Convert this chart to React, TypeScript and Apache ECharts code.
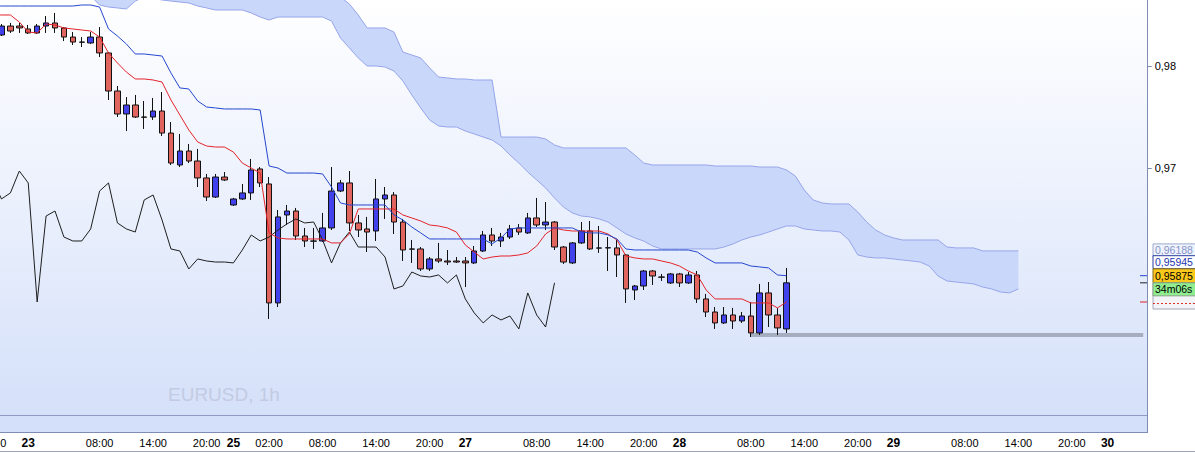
import React, { useEffect, useRef } from 'react';
import * as echarts from 'echarts';

// ---- time axis (hourly bars, broker sessions) ----
const sessionDays = [22, 23, 25, 26, 27, 28, 29, 30];
const sessionFirstHour = [20, 0, 22, 0, 0, 0, 0, 0];
const sessionLastHour = [23, 22, 23, 23, 23, 23, 23, 4];

const tickSlots = [0, 4, 6, 12, 18, 24, 27, 31, 37, 43, 49, 53, 55, 61, 67, 73, 77, 79, 85, 91, 97, 101, 103, 109, 115, 121, 125, 127];
const tickTexts = ['20:00', '23', '', '08:00', '14:00', '20:00', '25', '02:00', '08:00', '14:00', '20:00', '27', '', '08:00', '14:00', '20:00', '28', '', '08:00', '14:00', '20:00', '29', '', '08:00', '14:00', '20:00', '30', ''];
const yTickValues = [0.97, 0.98];

// ---- EURUSD 1h candles ----
const opens = [0.98412, 0.98304, 0.98392, 0.98392, 0.98363, 0.98324, 0.98392, 0.98422, 0.98373, 0.98284, 0.98235, 0.98226, 0.98284, 0.98128, 0.97755, 0.97530, 0.97618, 0.97500, 0.97500, 0.97559, 0.97343, 0.97030, 0.97167, 0.97069, 0.96903, 0.96716, 0.96912, 0.96638, 0.96697, 0.96756, 0.96991, 0.96844, 0.95678, 0.96540, 0.96579, 0.96334, 0.96285, 0.96285, 0.96413, 0.96775, 0.96854, 0.96462, 0.96403, 0.96383, 0.96697, 0.96736, 0.96471, 0.96207, 0.96207, 0.96011, 0.96109, 0.96089, 0.96089, 0.96089, 0.96070, 0.96187, 0.96344, 0.96285, 0.96324, 0.96413, 0.96364, 0.96511, 0.96442, 0.96471, 0.96226, 0.96070, 0.96266, 0.96383, 0.96217, 0.96217, 0.96217, 0.96148, 0.95805, 0.95844, 0.95991, 0.95932, 0.95874, 0.95962, 0.95874, 0.95952, 0.95717, 0.95589, 0.95482, 0.95560, 0.95501, 0.95550, 0.95384, 0.95776, 0.95560, 0.95423];
const closes = [0.98392, 0.98392, 0.98343, 0.98373, 0.98324, 0.98392, 0.98422, 0.98373, 0.98284, 0.98235, 0.98233, 0.98284, 0.98128, 0.97755, 0.97530, 0.97618, 0.97500, 0.97498, 0.97559, 0.97343, 0.97049, 0.97167, 0.97069, 0.96903, 0.96716, 0.96912, 0.96883, 0.96697, 0.96756, 0.96981, 0.96854, 0.95678, 0.96521, 0.96579, 0.96334, 0.96285, 0.96283, 0.96413, 0.96775, 0.96854, 0.96462, 0.96393, 0.96373, 0.96697, 0.96736, 0.96471, 0.96197, 0.96205, 0.96011, 0.96109, 0.96089, 0.96079, 0.96079, 0.96070, 0.96187, 0.96344, 0.96285, 0.96324, 0.96403, 0.96373, 0.96511, 0.96442, 0.96471, 0.96226, 0.96079, 0.96266, 0.96383, 0.96207, 0.96215, 0.96219, 0.96148, 0.95815, 0.95844, 0.95991, 0.95942, 0.95930, 0.95962, 0.95874, 0.95952, 0.95717, 0.95589, 0.95482, 0.95560, 0.95501, 0.95550, 0.95384, 0.95776, 0.95560, 0.95433, 0.95875];
const lows = [0.98353, 0.98294, 0.98324, 0.98324, 0.98314, 0.98314, 0.98324, 0.98324, 0.98245, 0.98206, 0.98186, 0.98216, 0.98088, 0.97667, 0.97500, 0.97363, 0.97491, 0.97383, 0.97471, 0.97314, 0.97030, 0.97010, 0.97049, 0.96814, 0.96677, 0.96707, 0.96873, 0.96628, 0.96687, 0.96687, 0.96814, 0.95521, 0.95638, 0.96442, 0.96295, 0.96226, 0.96207, 0.96275, 0.96393, 0.96765, 0.96383, 0.96324, 0.96177, 0.96285, 0.96501, 0.96354, 0.96089, 0.96070, 0.95991, 0.95991, 0.96070, 0.96050, 0.96070, 0.95834, 0.96060, 0.96177, 0.96236, 0.96226, 0.96305, 0.96344, 0.96354, 0.96422, 0.96393, 0.96197, 0.96060, 0.96060, 0.96256, 0.96197, 0.96168, 0.95991, 0.95932, 0.95678, 0.95707, 0.95805, 0.95854, 0.95893, 0.95864, 0.95834, 0.95864, 0.95678, 0.95540, 0.95423, 0.95472, 0.95423, 0.95482, 0.95344, 0.95364, 0.95442, 0.95364, 0.95384];
const highs = [0.98451, 0.98412, 0.98422, 0.98422, 0.98402, 0.98412, 0.98490, 0.98520, 0.98382, 0.98333, 0.98284, 0.98333, 0.98382, 0.98137, 0.97804, 0.97696, 0.97716, 0.97657, 0.97687, 0.97745, 0.97451, 0.97334, 0.97236, 0.97187, 0.96942, 0.96942, 0.96961, 0.96707, 0.96844, 0.97089, 0.97010, 0.96912, 0.96589, 0.96638, 0.96609, 0.96413, 0.96413, 0.96560, 0.97010, 0.96883, 0.96971, 0.96540, 0.96521, 0.96893, 0.96814, 0.96765, 0.96501, 0.96295, 0.96226, 0.96128, 0.96266, 0.96197, 0.96128, 0.96128, 0.96236, 0.96383, 0.96413, 0.96364, 0.96442, 0.96452, 0.96560, 0.96707, 0.96667, 0.96481, 0.96236, 0.96275, 0.96471, 0.96481, 0.96432, 0.96324, 0.96295, 0.96158, 0.95854, 0.96001, 0.96001, 0.95962, 0.95972, 0.95972, 0.95981, 0.95991, 0.95766, 0.95638, 0.95638, 0.95629, 0.95589, 0.95687, 0.95864, 0.95883, 0.95629, 0.96021];

// ---- Ichimoku ----
const tenkan = [0.98500, 0.98500, 0.98500, 0.98431, 0.98333, 0.98324, 0.98412, 0.98402, 0.98373, 0.98363, 0.98353, 0.98343, 0.98284, 0.98128, 0.98030, 0.97941, 0.97873, 0.97873, 0.97863, 0.97843, 0.97667, 0.97520, 0.97373, 0.97255, 0.97216, 0.97206, 0.97206, 0.97157, 0.97049, 0.97000, 0.96951, 0.96364, 0.96315, 0.96305, 0.96305, 0.96305, 0.96305, 0.96305, 0.96266, 0.96266, 0.96354, 0.96599, 0.96599, 0.96599, 0.96599, 0.96599, 0.96540, 0.96511, 0.96481, 0.96442, 0.96432, 0.96413, 0.96373, 0.96246, 0.96177, 0.96109, 0.96128, 0.96138, 0.96138, 0.96148, 0.96168, 0.96236, 0.96354, 0.96413, 0.96393, 0.96383, 0.96383, 0.96383, 0.96383, 0.96354, 0.96295, 0.96138, 0.96119, 0.96109, 0.96109, 0.96089, 0.96070, 0.96040, 0.95991, 0.95952, 0.95805, 0.95717, 0.95717, 0.95717, 0.95717, 0.95678, 0.95678, 0.95678, 0.95629, 0.95687];
const kijun = [0.98588, 0.98588, 0.98588, 0.98588, 0.98588, 0.98588, 0.98588, 0.98588, 0.98588, 0.98588, 0.98598, 0.98598, 0.98578, 0.98363, 0.98294, 0.98216, 0.98118, 0.98118, 0.98108, 0.98098, 0.97932, 0.97785, 0.97775, 0.97657, 0.97598, 0.97589, 0.97579, 0.97579, 0.97579, 0.97579, 0.97569, 0.97020, 0.97000, 0.96951, 0.96951, 0.96951, 0.96951, 0.96942, 0.96814, 0.96658, 0.96638, 0.96638, 0.96638, 0.96638, 0.96638, 0.96540, 0.96491, 0.96422, 0.96364, 0.96305, 0.96305, 0.96305, 0.96305, 0.96305, 0.96305, 0.96305, 0.96256, 0.96315, 0.96403, 0.96413, 0.96413, 0.96413, 0.96413, 0.96413, 0.96413, 0.96413, 0.96373, 0.96364, 0.96364, 0.96344, 0.96305, 0.96207, 0.96197, 0.96197, 0.96197, 0.96197, 0.96197, 0.96197, 0.96197, 0.96177, 0.96119, 0.96070, 0.96070, 0.96070, 0.96070, 0.96040, 0.96031, 0.96021, 0.95952, 0.95945];
const chikou = [0.96883, 0.96697, 0.96756, 0.96971, 0.96854, 0.95687, 0.96530, 0.96579, 0.96324, 0.96285, 0.96285, 0.96403, 0.96775, 0.96854, 0.96462, 0.96403, 0.96373, 0.96687, 0.96736, 0.96491, 0.96207, 0.96187, 0.96011, 0.96109, 0.96089, 0.96079, 0.96079, 0.96070, 0.96197, 0.96344, 0.96285, 0.96324, 0.96393, 0.96452, 0.96501, 0.96462, 0.96471, 0.96295, 0.96070, 0.96266, 0.96373, 0.96226, 0.96226, 0.96226, 0.96128, 0.95815, 0.95844, 0.95981, 0.95942, 0.95932, 0.95952, 0.95874, 0.95952, 0.95717, 0.95580, 0.95482, 0.95560, 0.95511, 0.95550, 0.95423, 0.95776, 0.95560, 0.95442, 0.95875];
const cloudTop = [0.99050, 0.99050, 0.99050, 0.99050, 0.99050, 0.99050, 0.99050, 0.99050, 0.99050, 0.99050, 0.99050, 0.99050, 0.99050, 0.99050, 0.99050, 0.99050, 0.99050, 0.99050, 0.99050, 0.99050, 0.99050, 0.99050, 0.99050, 0.99050, 0.99050, 0.99050, 0.99050, 0.99050, 0.99050, 0.99050, 0.99050, 0.99050, 0.99050, 0.99050, 0.99050, 0.99050, 0.99050, 0.99050, 0.99050, 0.98676, 0.98608, 0.98500, 0.98373, 0.98373, 0.98373, 0.98333, 0.98137, 0.98108, 0.98079, 0.97981, 0.97892, 0.97883, 0.97873, 0.97873, 0.97863, 0.97863, 0.97863, 0.97304, 0.97304, 0.97304, 0.97304, 0.97304, 0.97285, 0.97226, 0.97197, 0.97197, 0.97197, 0.97197, 0.97197, 0.97197, 0.97197, 0.97197, 0.97128, 0.97049, 0.97030, 0.97030, 0.97030, 0.97030, 0.97030, 0.97030, 0.97030, 0.97020, 0.97020, 0.97020, 0.97020, 0.97020, 0.97010, 0.97010, 0.97010, 0.96981, 0.96922, 0.96785, 0.96687, 0.96658, 0.96648, 0.96648, 0.96648, 0.96569, 0.96471, 0.96393, 0.96344, 0.96315, 0.96295, 0.96295, 0.96295, 0.96295, 0.96295, 0.96226, 0.96217, 0.96217, 0.96217, 0.96188, 0.96188, 0.96188, 0.96188, 0.96188];
const cloudBottom = [0.98794, 0.98794, 0.98794, 0.98794, 0.98794, 0.98794, 0.98794, 0.98794, 0.98794, 0.98794, 0.98745, 0.98686, 0.98598, 0.98578, 0.98569, 0.98559, 0.98637, 0.98676, 0.98667, 0.98647, 0.98637, 0.98627, 0.98618, 0.98588, 0.98569, 0.98549, 0.98549, 0.98549, 0.98549, 0.98520, 0.98480, 0.98451, 0.98480, 0.98480, 0.98480, 0.98480, 0.98480, 0.98480, 0.98441, 0.98275, 0.98177, 0.98079, 0.98000, 0.98000, 0.97990, 0.97951, 0.97853, 0.97716, 0.97589, 0.97471, 0.97412, 0.97402, 0.97402, 0.97363, 0.97334, 0.97304, 0.97275, 0.97216, 0.97128, 0.97049, 0.96961, 0.96883, 0.96805, 0.96707, 0.96618, 0.96560, 0.96530, 0.96521, 0.96501, 0.96471, 0.96413, 0.96354, 0.96315, 0.96285, 0.96236, 0.96207, 0.96207, 0.96207, 0.96207, 0.96207, 0.96207, 0.96207, 0.96226, 0.96256, 0.96295, 0.96324, 0.96344, 0.96373, 0.96403, 0.96432, 0.96432, 0.96403, 0.96393, 0.96383, 0.96383, 0.96373, 0.96295, 0.96148, 0.96128, 0.96119, 0.96119, 0.96109, 0.96099, 0.96089, 0.96079, 0.96040, 0.95942, 0.95893, 0.95883, 0.95874, 0.95864, 0.95834, 0.95815, 0.95785, 0.95776, 0.95815];

// day low line
const dayLowFromSlot = 85;
const dayLow = 0.95364;
const timerText = '34m06s';

const FONT = '"Liberation Sans", Arial, sans-serif';
const fmt = (v: number, d: number) => v.toFixed(d).replace('.', ',');

export default function App() {
  const ref = useRef<HTMLDivElement>(null);
  useEffect(() => {
    document.body.style.margin = '0';
    const chart = echarts.init(ref.current as HTMLDivElement, null, { renderer: 'svg' });

    const categories: string[] = [];
    sessionDays.forEach((d, i) => {
      for (let h = sessionFirstHour[i]; h <= sessionLastHour[i]; h++) {
        categories.push(`${d} ${String(h).padStart(2, '0')}:00`);
      }
    });
    const tickMap = new Map<number, string>();
    tickSlots.forEach((s, i) => tickMap.set(s, tickTexts[i]));

    const candleData = opens.map((o, i) => [o, closes[i], lows[i], highs[i]]);
    const cloudDiff = cloudTop.map((t, i) => +(t - cloudBottom[i]).toFixed(6));
    const lowLine = categories.map((_, i) => (i >= dayLowFromSlot ? dayLow : null));

    const lineBase = { type: 'line', symbol: 'none', showSymbol: false, silent: true, animation: false };

    chart.setOption({
      animation: false,
      backgroundColor: '#ffffff',
      grid: {
        left: -11.9, top: 0, width: 1159.6, height: 432,
        outerBoundsMode: 'none', containLabel: false,
        show: true, borderWidth: 0,
        backgroundColor: new echarts.graphic.LinearGradient(0, 0, 0, 1, [
          { offset: 0, color: '#ffffff' },
          { offset: 1, color: '#d3dff9' },
        ]),
      },
      xAxis: {
        type: 'category', data: categories, boundaryGap: true,
        axisLine: { lineStyle: { color: '#7f8db5', width: 1 } },
        axisTick: {
          alignWithLabel: true, length: 4,
          interval: (idx: number) => tickMap.has(idx),
          lineStyle: { color: '#7f8db5' },
        },
        axisLabel: {
          interval: (idx: number) => tickMap.has(idx) && tickMap.get(idx) !== '',
          margin: 5, color: '#000', fontSize: 11, fontFamily: FONT,
          formatter: (_v: string, idx: number) => {
            const t = tickMap.get(idx) || '';
            return t.indexOf(':') >= 0 ? t : `{b|${t}}`;
          },
          rich: { b: { fontWeight: 'bold', fontSize: 12, fontFamily: FONT, color: '#000' } },
        },
        splitLine: { show: false },
      },
      yAxis: {
        type: 'value', position: 'right', min: 0.94413, max: 0.98647, scale: true,
        axisLine: { show: true, lineStyle: { color: '#7f8db5' } },
        axisTick: { show: true, length: 4, customValues: yTickValues, lineStyle: { color: '#7f8db5' } },
        axisLabel: { customValues: yTickValues, margin: 7, color: '#000', fontSize: 11, fontFamily: FONT, formatter: (v: number) => fmt(v, 2) },
        splitLine: { show: false },
      },
      series: [
        { ...lineBase, name: 'kumoBase', data: cloudBottom, stack: 'kumo', z: 2, lineStyle: { color: '#97a5ea', width: 1 } },
        { ...lineBase, name: 'kumo', data: cloudDiff, stack: 'kumo', z: 2, lineStyle: { color: '#97a5ea', width: 1 }, areaStyle: { color: '#c9d7fb', opacity: 1 } },
        { ...lineBase, name: 'dayLow', data: lowLine, z: 3, lineStyle: { color: '#a6adbf', width: 4 } },
        {
          type: 'candlestick', name: 'EURUSD', data: candleData, barWidth: 6, z: 4, silent: true,
          itemStyle: { color: '#4242ec', color0: '#e0655e', borderColor: '#111111', borderColor0: '#111111', borderWidth: 1 },
        },
        { ...lineBase, name: 'chikou', data: chikou, z: 5, lineStyle: { color: '#1e1e1e', width: 1 } },
        { ...lineBase, name: 'tenkan', data: tenkan, z: 6, lineStyle: { color: '#e4232a', width: 1 } },
        { ...lineBase, name: 'kijun', data: kijun, z: 6, lineStyle: { color: '#2547cf', width: 1 } },
      ],
    });

    const py = (v: number) => chart.convertToPixel({ yAxisIndex: 0 }, v) as number;
    const tagX = 1153;
    const tagW = 46;
    const lastClose = closes[closes.length - 1];
    const lastKijun = kijun[kijun.length - 1];
    const lastTenkan = tenkan[tenkan.length - 1];
    const lastSenkou = cloudTop[cloudTop.length - 1];
    const yS = py(lastSenkou);
    const yK = py(lastKijun);
    const yC = py(lastClose);
    const yT = py(lastTenkan);
    const txt = (id: string, x: number, y: number, text: string, fill: string, z = 20) => ({
      type: 'text', id, x, y, z,
      style: { text, fill, fontSize: 10.5, fontFamily: FONT, verticalAlign: 'middle', align: 'left' },
    });
    const rect = (id: string, y: number, h: number, fill: string, stroke: string, z = 19, dash?: number[]) => ({
      type: 'rect', id, z, shape: { x: tagX, y, width: tagW, height: h },
      style: { fill, stroke, lineWidth: 1, lineDash: dash },
    });

    chart.setOption({
      graphic: {
        elements: [
          { type: 'line', id: 'sep', z: 1, shape: { x1: 0, y1: 415.5, x2: 1147, y2: 415.5 }, style: { stroke: '#8e9cc4', lineWidth: 1 } },
          { type: 'line', id: 'frameBottom', z: 1, shape: { x1: 0, y1: 451.5, x2: 1195, y2: 451.5 }, style: { stroke: '#9ea6ba', lineWidth: 1 } },
          {
            type: 'text', id: 'wm', x: 168, y: 394, z: 1,
            style: { text: 'EURUSD, 1h', fill: '#c3cbe2', fontSize: 19, fontFamily: FONT, verticalAlign: 'middle' },
          },
          rect('tagSBox', yS - 7, 13, '#eff2fb', '#9daad2'),
          txt('tagS', tagX + 2, yS - 0.5, fmt(lastSenkou, 5), '#8595cc'),
          rect('tagTBox', yT - 19, 26, '#f3f4f8', '#a3a8b8', 17),
          { type: 'line', id: 'tagTDash', z: 18, shape: { x1: tagX, y1: yT + 1.5, x2: 1195, y2: yT + 1.5 }, style: { stroke: '#e03030', lineWidth: 1, lineDash: [2, 2] } },
          rect('tagKBox', yK - 20, 13, '#ffffff', '#2b3f9e'),
          txt('tagK', tagX + 2, yK - 13.5, fmt(lastKijun, 5), '#2236b0'),
          rect('tagCBox', yC - 14, 14, '#fcc81c', '#7a6a20', 21),
          txt('tagC', tagX + 2, yC - 7, fmt(lastClose, 5), '#000000', 22),
          rect('tagTimerBox', yC, 13, '#90ee90', '#8aa08a', 21),
          txt('tagTimer', tagX + 2, yC + 6.5, timerText, '#000000', 22),
          { type: 'line', id: 'mkK', z: 18, shape: { x1: 1140, y1: yK, x2: 1147, y2: yK }, style: { stroke: '#2547cf', lineWidth: 1 } },
          { type: 'line', id: 'mkC', z: 18, shape: { x1: 1140, y1: yC, x2: 1147, y2: yC }, style: { stroke: '#222222', lineWidth: 1 } },
          { type: 'line', id: 'mkT', z: 18, shape: { x1: 1140, y1: yT, x2: 1147, y2: yT }, style: { stroke: '#e4232a', lineWidth: 1 } },
        ],
      },
    });

    return () => chart.dispose();
  }, []);
  return <div ref={ref} style={{ position: 'absolute', left: 0, top: 0, width: 1195, height: 453 }} />;
}
